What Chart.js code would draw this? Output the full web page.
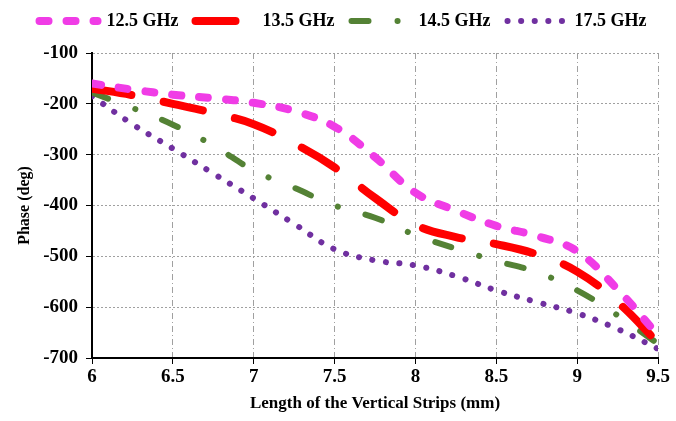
<!DOCTYPE html>
<html>
<head>
<meta charset="utf-8">
<script src="https://cdn.jsdelivr.net/npm/chart.js@4.4.1/dist/chart.umd.min.js"></script>
<style>
  html, body { margin: 0; padding: 0; background: #fff; }
  #wrap { width: 676px; height: 421px; }
</style>
</head>
<body>
<div id="wrap"><canvas id="phaseChart"></canvas></div>
<script>
// Strip length (mm) and phase (deg) per frequency
const stripLength = [6, 6.25, 6.5, 6.75, 7, 7.25, 7.5, 7.75, 8, 8.25, 8.5, 8.75, 9, 9.25, 9.5];
const phase125 = [-160, -172, -182, -189, -198, -214, -245, -305, -375, -410, -440, -460, -490, -565, -655];
const phase135 = [-170, -183, -200, -218, -240, -278, -325, -385, -438, -462, -476, -496, -530, -590, -670];
const phase145 = [-178, -208, -241, -282, -331, -365, -400, -424, -458, -485, -509, -531, -567, -616, -672];
const phase175 = [-185, -240, -288, -337, -386, -436, -486, -508, -518, -539, -567, -590, -612, -643, -682];
const seriesNames = ['12.5 GHz', '13.5 GHz', '14.5 GHz', '17.5 GHz'];
const xTicks = [6, 6.5, 7, 7.5, 8, 8.5, 9, 9.5];
const yTicks = [-700, -600, -500, -400, -300, -200, -100];

const serif = 'Liberation Serif, Times New Roman, serif';

function points(ys) {
  return stripLength.map((x, i) => ({ x: x, y: ys[i] }));
}

function series(label, ys, color, width, dash) {
  return {
    label: label,
    data: points(ys),
    borderColor: color,
    backgroundColor: color,
    borderWidth: width,
    borderDash: dash,
    borderCapStyle: 'round',
    pointRadius: 0,
    tension: 0.4,
    fill: false
  };
}

// legend: extra space below it, and nudged up and to the right
const legendTweak = {
  id: 'legendTweak',
  beforeInit(chart) {
    const fit = chart.legend.fit;
    chart.legend.fit = function () {
      fit.call(this);
      this.height += 8;
    };
  },
  afterLayout(chart) {
    const lg = chart.legend;
    lg.left += 14;
    lg.right += 14;
    lg.top -= 5;
    lg.bottom -= 5;
  }
};

const ctx = document.getElementById('phaseChart').getContext('2d');

new Chart(ctx, {
  type: 'line',
  data: {
    datasets: [
      series(seriesNames[0], phase125, '#f03ce6', 8, [9, 18]),
      series(seriesNames[1], phase135, '#ff0000', 8, [40, 33]),
      series(seriesNames[2], phase145, '#548235', 6, [17, 29, 0.1, 29]),
      series(seriesNames[3], phase175, '#7030a0', 6, [0.1, 13.5])
    ]
  },
  plugins: [legendTweak],
  options: {
    responsive: true,
    maintainAspectRatio: false,
    animation: false,
    layout: { padding: { left: 0, right: 18, top: 0, bottom: 0 } },
    plugins: {
      legend: {
        position: 'top',
        labels: {
          usePointStyle: true,
          pointStyle: 'line',
          pointStyleWidth: 58,
          padding: 17,
          color: '#000',
          font: { family: serif, size: 18, weight: 'bold' },
          generateLabels: (chart) => {
            const items = Chart.defaults.plugins.legend.labels.generateLabels(chart);
            items.forEach((item) => {
              const ds = chart.data.datasets[item.datasetIndex];
              item.lineDash = ds.borderDash;
              item.lineCap = 'round';
              item.lineWidth = ds.borderWidth;
              item.strokeStyle = ds.borderColor;
            });
            return items;
          }
        }
      },
      tooltip: { enabled: false }
    },
    scales: {
      x: {
        type: 'linear',
        min: 6,
        max: 9.5,
        afterBuildTicks: (axis) => { axis.ticks = xTicks.map(v => ({ value: v })); },
        afterFit: (axis) => { axis.height = 63; },
        ticks: {
          color: '#000',
          padding: 2,
          font: { family: serif, size: 19, weight: 'bold' },
          callback: (v) => String(v)
        },
        grid: {
          color: '#a0a0a0',
          lineWidth: 1,
          tickColor: '#000',
          tickLength: 6,
          tickBorderDash: []
        },
        border: { color: '#000', width: 2, dash: [6, 3, 1, 3] },
        title: {
          display: true,
          text: 'Length of the Vertical Strips (mm)',
          color: '#000',
          padding: { top: 4, bottom: 7 },
          font: { family: serif, size: 17, weight: 'bold' }
        }
      },
      y: {
        min: -700,
        max: -100,
        afterBuildTicks: (axis) => { axis.ticks = yTicks.map(v => ({ value: v })); },
        afterFit: (axis) => { axis.width = 92; },
        ticks: {
          color: '#000',
          padding: 8,
          font: { family: serif, size: 19, weight: 'bold' },
          callback: (v) => String(v)
        },
        grid: {
          color: '#a0a0a0',
          lineWidth: 1,
          tickColor: '#000',
          tickLength: 6,
          tickBorderDash: []
        },
        border: { color: '#000', width: 2, dash: [2, 2] },
        title: {
          display: true,
          text: 'Phase (deg)',
          color: '#000',
          padding: { top: 15, bottom: 0 },
          font: { family: serif, size: 16, weight: 'bold' }
        }
      }
    }
  }
});
</script>
</body>
</html>
